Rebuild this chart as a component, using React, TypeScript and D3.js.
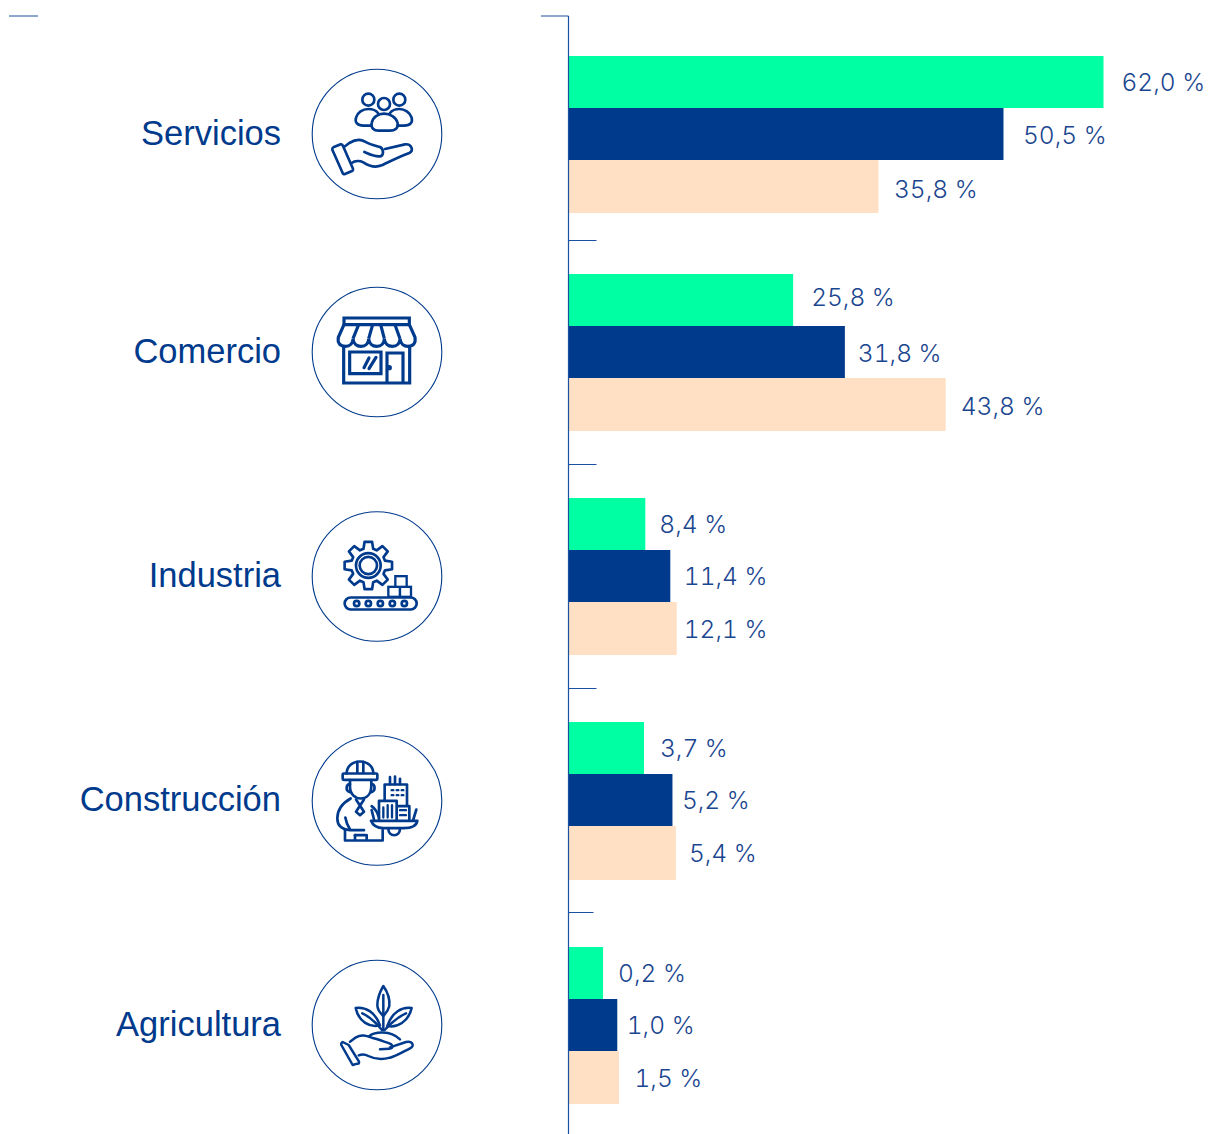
import React from "react";
import * as d3 from "d3";

const categories = ["Servicios", "Comercio", "Industria", "Construcción", "Agricultura"];
const seriesNames = ["verde", "azul", "crema"];
// Bar lengths as drawn in the picture (chart units, where 62 is the longest bar)
const greenBars = [62.0, 26.0, 8.85, 8.7, 3.95];
const blueBars = [50.4, 32.0, 11.75, 12.0, 5.6];
const creamBars = [35.9, 43.7, 12.5, 12.4, 5.8];
// Labels as printed
const greenLabels = ["62,0 %", "25,8 %", "8,4 %", "3,7 %", "0,2 %"];
const blueLabels = ["50,5 %", "31,8 %", "11,4 %", "5,2 %", "1,0 %"];
const creamLabels = ["35,8 %", "43,8 %", "12,1 %", "5,4 %", "1,5 %"];

const NAVY = "#003a8c";
const LABEL = "#1a4690";
const seriesColors = ["#00ffa3", NAVY, "#ffe0c5"];
const axisX = 568.5;
const groupTops = [56, 274, 498, 722, 947];
const circleYs = [134, 352, 576.5, 800.5, 1025];
const dividerYs = [241, 465, 689, 913];
const dividerEnds = [596.5, 596.5, 596.5, 593.5];
const labelGaps = [[18.5, 20, 16], [18.5, 13.5, 15.5], [14.5, 14, 7.5], [16.5, 10, 13.5], [15.5, 10, 16]];
const labelDy = [[0, 1, 2.5], [-3, 1, 1.5], [0, 0, 0], [0, 0, 0], [0, 0, 0]];

const x = d3.scaleLinear().domain([0, 62]).range([0, 534.5]);
const groupY = d3.scaleOrdinal<string, number>().domain(categories).range(groupTops);
const barY = d3.scaleBand<string>().domain(seriesNames).range([0, 157]);

const stroke = { fill: "none", stroke: NAVY, strokeLinecap: "round", strokeLinejoin: "round" } as const;

function gearPath(cx: number, cy: number, rOut: number, rIn: number, teeth: number) {
  const pts: [number, number][] = [];
  const step = (Math.PI * 2) / teeth;
  d3.range(teeth).forEach((i) => {
    const a = i * step - Math.PI / 2;
    const push = (r: number, o: number) => pts.push([cx + r * Math.cos(a + o), cy + r * Math.sin(a + o)]);
    push(rIn, -step * 0.36);
    push(rOut, -step * 0.2);
    push(rOut, step * 0.2);
    push(rIn, step * 0.36);
  });
  return d3.line()(pts) + "Z";
}

const IconPeople = () => (
  <g {...stroke} strokeWidth={8}>
    <circle cx={205} cy={120} r={18} />
    <circle cx={298} cy={120} r={18} />
    <circle cx={252} cy={133} r={18} />
    <path d="M214 198H190C172 198 164 188 168 174C172 158 188 148 205 148C218 148 228 152 234 160" />
    <path d="M292 198H312C332 198 338 188 335 174C330 158 314 148 298 148C286 148 276 152 270 160" />
    <path d="M215 190C218 172 235 162 252 162C270 162 288 172 293 190C296 205 285 213 270 213H235C222 213 212 205 215 190Z" />
    <path d="M100 263L122 254Q126 253 128 257L159 327Q160 332 156 334L135 343Q130 345 128 340L97 270Q96 265 100 263Z" />
    <path d="M132 262L148 250C165 240 180 237 195 246C210 255 225 258 240 262C252 268 252 288 240 290C225 292 205 282 193 277" />
    <path d="M255 268L315 254C335 252 342 272 328 280C300 290 270 305 245 317C225 325 205 318 190 308C180 303 165 303 155 310" />
  </g>
);

const IconShop = () => (
  <g {...stroke} strokeWidth={9.5} strokeLinecap="butt" strokeLinejoin="miter">
    <path d="M132 114H328V134H132Z" />
    <path d="M132 134L115 172C112 190 120 198 136 199C150 199 159 190 159 176C160 190 170 199 183 199C197 199 206 190 206 176C207 190 217 199 230 199C244 199 253 190 253 176C254 190 264 199 277 199C291 199 300 190 300 176C301 190 311 199 324 199C340 198 348 190 345 172L328 134" />
    <path d="M176 134L159 176M218 134L206 176M242 134L253 176M285 134L300 176" />
    <path d="M131 195V309H329V195" />
    <path d="M149 216H243V281H149Z" />
    <path d="M261 309V219H309V309" />
    <path d="M207 234L192 263M228 232L207 266" strokeLinecap="round" />
    <circle cx={268} cy={263} r={3} fill={NAVY} />
  </g>
);

const IconFactory = () => (
  <g {...stroke} strokeWidth={8}>
    <path d={gearPath(205, 181, 72, 52, 8)} />
    <circle cx={205} cy={181} r={37} />
    <circle cx={205} cy={181} r={26} />
    <rect x={134} y={277} width={216} height={36} rx={18} />
    {[170, 205, 241, 277, 313].map((c) => <circle key={c} cx={c} cy={295} r={8} />)}
    <g fill="#fff" strokeWidth={7} strokeLinejoin="miter">
      <rect x={265} y={245} width={35} height={30} />
      <rect x={300} y={245} width={33} height={30} />
      <rect x={286} y={213} width={34} height={32} />
    </g>
  </g>
);

const IconWorker = () => (
  <g {...stroke} strokeWidth={8}>
    <path d="M140 130C140 108 158 94 180 94C202 94 220 108 220 130" />
    <path d="M172 95V128M190 95V128" />
    <rect x={128} y={130} width={104} height={19} rx={3} />
    <path d="M150 150V170C150 192 165 205 182 205C200 205 214 192 214 165V150" />
    <path d="M150 162C138 162 135 182 150 186M214 162C226 162 228 182 214 186" />
    <path d="M152 205C125 220 112 240 112 265C112 288 128 298 150 300H192" />
    <path d="M136 262C138 275 144 288 150 298" />
    <path d="M168 208L192 245M192 208L168 245L180 255L192 245" />
    <path d="M215 228C225 235 232 245 237 262" />
    <path d="M135 300V331H248V300M165 315V331M200 315V331" />
    <path d="M165 315H195" />
    <path d="M254 210V163H321V225" />
    <path d="M237 270V212H290V270M290 228H328V270" />
    <path d="M270 141V162M285 139V162M300 146V162" />
    <path d="M250 232V262M263 225V262M276 225V262" strokeWidth={7} />
    <path d="M300 240H318M300 255H318" strokeWidth={7} />
    <path d="M275 180h5M290 180h5M305 180h5M275 195h5M290 195h5M305 195h5" strokeWidth={7} />
    <path d="M213 272H352C350 285 335 294 310 294H250C232 294 218 285 213 272Z" />
    <path d="M265 295C265 322 300 322 300 295" />
    <path d="M349 238L340 268M215 240L222 268" />
  </g>
);

const IconPlant = () => (
  <g {...stroke} strokeWidth={7.5}>
    <path d="M250 108C262 125 270 148 268 168C264 185 254 192 250 198C242 190 232 182 232 165C232 145 240 125 250 108Z" />
    <path d="M250 135V240" />
    <path d="M167 174C196 170 226 186 240 226C210 234 176 216 167 174Z" />
    <path d="M187 190C208 200 230 220 246 240" />
    <path d="M335 174C306 170 276 186 262 228C290 234 326 216 335 174Z" />
    <path d="M318 190C296 200 272 220 254 240" />
    <path d="M208 258C225 245 270 240 300 268" />
    <path d="M128 276L146 285L177 335Q178 342 172 341L158 345L124 285Q122 280 128 276Z" />
    <path d="M150 275L168 262C185 252 200 258 218 264C235 268 255 276 268 280C280 285 280 295 268 296L240 298" />
    <path d="M270 292L318 276C338 272 345 288 330 295C310 305 290 318 270 323C245 330 225 328 205 318C195 312 185 312 176 316" />
  </g>
);

const icons = [IconPeople, IconShop, IconFactory, IconWorker, IconPlant];
const iconOrigins = [[231, 223], [231, 216], [231, 214], [231, 211], [231, 225]];

export default function App() {
  const bars = [greenBars, blueBars, creamBars];
  const labels = [greenLabels, blueLabels, creamLabels];
  return (
    <svg width={1223} height={1134} style={{ position: "absolute", left: 0, top: 0, background: "#fff" }}>
      {categories.map((cat, i) => {
        const top = groupY(cat);
        const Icon = icons[i];
        return (
          <g key={cat}>
            <text x={281} y={Math.floor(circleYs[i]) + 11} textAnchor="end" fontFamily="'Liberation Sans', Arial, sans-serif" fontSize={34.5} fill={NAVY}>{cat}</text>
            <circle cx={377} cy={circleYs[i]} r={64.8} fill="none" stroke={NAVY} strokeWidth={1.1} />
            <g transform={`translate(377,${circleYs[i]}) scale(${1 / 3}) translate(${-iconOrigins[i][0]},${-iconOrigins[i][1]})`}>
              <Icon />
            </g>
            {seriesNames.map((s, j) => {
              const y0 = top + Math.floor(barY(s)!);
              const y1 = j === 2 ? top + 157 + (i === 3 ? 1 : 0) : top + Math.floor(barY(seriesNames[j + 1])!);
              const w = x(bars[j][i]);
              return (
                <g key={s}>
                  <rect x={axisX + 0.5} y={y0} width={w} height={y1 - y0} fill={seriesColors[j]} />
                  <text x={axisX + w + labelGaps[i][j]} y={(y0 + y1) / 2 + 9 + labelDy[i][j]} fontFamily="Inter, sans-serif" fontWeight={300} fontSize={24.5} fill={LABEL} style={{ fontVariantNumeric: "tabular-nums" }}>{labels[j][i]}</text>
                </g>
              );
            })}
          </g>
        );
      })}
      <line x1={axisX} x2={axisX} y1={16} y2={1134} stroke="#1b4f9f" strokeWidth={1.2} />
      <line x1={541} x2={axisX} y1={16} y2={16} stroke="#1b4f9f" strokeWidth={1} />
      <line x1={9} x2={38} y1={16} y2={16} stroke="#1b4f9f" strokeWidth={1} />
      {dividerYs.map((y, i) => (
        <line key={y} x1={axisX} x2={dividerEnds[i]} y1={y - 0.5} y2={y - 0.5} stroke="#1b4f9f" strokeWidth={1} />
      ))}
    </svg>
  );
}
